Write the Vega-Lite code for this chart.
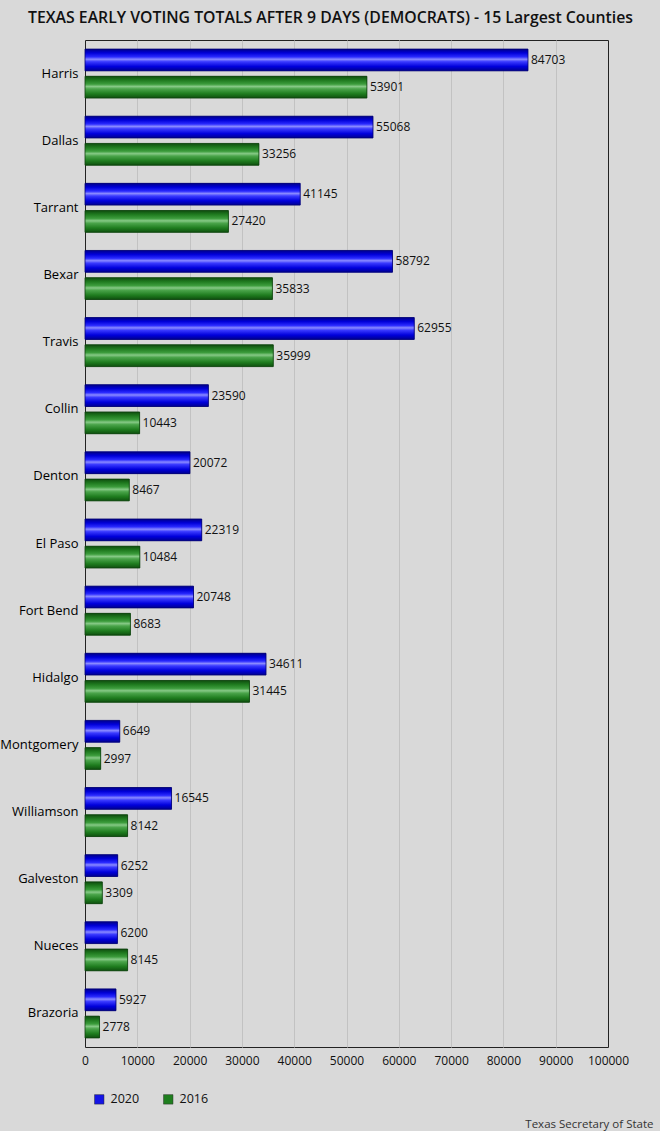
{
  "$schema": "https://vega.github.io/schema/vega-lite/v6.json",
  "autosize": "none",
  "width": 523,
  "height": 1007,
  "padding": {"left": 85, "top": 40, "right": 52, "bottom": 84},
  "background": "#d9d9d9",
  "title": {
    "text": "TEXAS EARLY VOTING TOTALS AFTER 9 DAYS (DEMOCRATS) - 15 Largest Counties",
    "font": "Open Sans",
    "fontSize": 15.8,
    "fontWeight": 600,
    "color": "#111111",
    "anchor": "middle",
    "dx": -16,
    "offset": 13
  },
  "data": {
    "values": [
      {"County": "Harris", "Year": "2020", "Votes": 84703},
      {"County": "Harris", "Year": "2016", "Votes": 53901},
      {"County": "Dallas", "Year": "2020", "Votes": 55068},
      {"County": "Dallas", "Year": "2016", "Votes": 33256},
      {"County": "Tarrant", "Year": "2020", "Votes": 41145},
      {"County": "Tarrant", "Year": "2016", "Votes": 27420},
      {"County": "Bexar", "Year": "2020", "Votes": 58792},
      {"County": "Bexar", "Year": "2016", "Votes": 35833},
      {"County": "Travis", "Year": "2020", "Votes": 62955},
      {"County": "Travis", "Year": "2016", "Votes": 35999},
      {"County": "Collin", "Year": "2020", "Votes": 23590},
      {"County": "Collin", "Year": "2016", "Votes": 10443},
      {"County": "Denton", "Year": "2020", "Votes": 20072},
      {"County": "Denton", "Year": "2016", "Votes": 8467},
      {"County": "El Paso", "Year": "2020", "Votes": 22319},
      {"County": "El Paso", "Year": "2016", "Votes": 10484},
      {"County": "Fort Bend", "Year": "2020", "Votes": 20748},
      {"County": "Fort Bend", "Year": "2016", "Votes": 8683},
      {"County": "Hidalgo", "Year": "2020", "Votes": 34611},
      {"County": "Hidalgo", "Year": "2016", "Votes": 31445},
      {"County": "Montgomery", "Year": "2020", "Votes": 6649},
      {"County": "Montgomery", "Year": "2016", "Votes": 2997},
      {"County": "Williamson", "Year": "2020", "Votes": 16545},
      {"County": "Williamson", "Year": "2016", "Votes": 8142},
      {"County": "Galveston", "Year": "2020", "Votes": 6252},
      {"County": "Galveston", "Year": "2016", "Votes": 3309},
      {"County": "Nueces", "Year": "2020", "Votes": 6200},
      {"County": "Nueces", "Year": "2016", "Votes": 8145},
      {"County": "Brazoria", "Year": "2020", "Votes": 5927},
      {"County": "Brazoria", "Year": "2016", "Votes": 2778}
    ]
  },
  "encoding": {
    "y": {
      "field": "County",
      "type": "nominal",
      "scale": {
        "domain": ["Harris", "Dallas", "Tarrant", "Bexar", "Travis", "Collin", "Denton", "El Paso", "Fort Bend", "Hidalgo", "Montgomery", "Williamson", "Galveston", "Nueces", "Brazoria"],
        "paddingInner": 0.27,
        "paddingOuter": 0.135
      },
      "axis": {
        "title": null,
        "ticks": false,
        "domain": false,
        "labelPadding": 7,
        "labelFont": "Open Sans",
        "labelFontSize": 13,
        "labelFontWeight": "normal",
        "labelColor": "#000000",
        "labelLimit": 120
      }
    },
    "yOffset": {
      "field": "Year",
      "type": "nominal",
      "scale": {"domain": ["2020", "2016"], "paddingInner": 0.2}
    },
    "x": {
      "field": "Votes",
      "type": "quantitative",
      "scale": {"domain": [0, 100000], "nice": false},
      "axis": {
        "title": "Texas Secretary of State",
        "titleFont": "Open Sans",
        "titleFontSize": 11.5,
        "titleFontWeight": "normal",
        "titleColor": "#333333",
        "titleAnchor": "end",
        "titleAlign": "right",
        "titleBaseline": "alphabetic",
        "titleX": 568,
        "titleY": 80,
        "values": [0, 10000, 20000, 30000, 40000, 50000, 60000, 70000, 80000, 90000, 100000],
        "format": "d",
        "ticks": false,
        "domain": false,
        "labelPadding": 8,
        "labelFont": "Open Sans",
        "labelFontSize": 12,
        "labelColor": "#111111",
        "labelFlush": false,
        "grid": true,
        "gridColor": {
          "condition": {"test": "datum.value === 0 || datum.value === 100000", "value": "transparent"},
          "value": "#c2c2c2"
        },
        "gridWidth": 1
      }
    }
  },
  "layer": [
    {
      "mark": {"type": "bar"},
      "encoding": {
        "color": {
          "field": "Year",
          "type": "nominal",
          "scale": {"domain": ["2020", "2016"], "range": ["#1414e6", "#1f7f1f"]},
          "legend": {
            "title": null,
            "orient": "none",
            "direction": "horizontal",
            "legendX": 8,
            "legendY": 1053,
            "symbolType": "square",
            "symbolSize": 90,
            "symbolStrokeColor": "#333333",
            "symbolStrokeWidth": 0.5,
            "labelFont": "Open Sans",
            "labelFontSize": 12.5,
            "labelColor": "#111111",
            "columnPadding": 22,
            "labelOffset": 5
          }
        }
      }
    },
    {
      "transform": [{"filter": "datum.Year === '2020'"}],
      "mark": {
        "type": "bar",
        "stroke": "#00006e",
        "strokeWidth": 0.8,
        "color": {
          "gradient": "linear",
          "x1": 0, "y1": 0, "x2": 0, "y2": 1,
          "stops": [
            {"offset": 0, "color": "#00008a"},
            {"offset": 0.18, "color": "#0000d8"},
            {"offset": 0.36, "color": "#2a2aff"},
            {"offset": 0.47, "color": "#8a8aff"},
            {"offset": 0.58, "color": "#3a3aff"},
            {"offset": 0.8, "color": "#0000dc"},
            {"offset": 1, "color": "#000090"}
          ]
        }
      }
    },
    {
      "transform": [{"filter": "datum.Year === '2016'"}],
      "mark": {
        "type": "bar",
        "stroke": "#0c3f0c",
        "strokeWidth": 0.8,
        "color": {
          "gradient": "linear",
          "x1": 0, "y1": 0, "x2": 0, "y2": 1,
          "stops": [
            {"offset": 0, "color": "#0f4d0f"},
            {"offset": 0.18, "color": "#1f7a1f"},
            {"offset": 0.36, "color": "#3c9c3c"},
            {"offset": 0.47, "color": "#86c986"},
            {"offset": 0.58, "color": "#4aa44a"},
            {"offset": 0.8, "color": "#1f7d1f"},
            {"offset": 1, "color": "#0f500f"}
          ]
        }
      }
    },
    {
      "mark": {
        "type": "text",
        "align": "left",
        "baseline": "middle",
        "dx": 3,
        "font": "Open Sans",
        "fontSize": 12,
        "color": "#111111"
      },
      "encoding": {
        "text": {"field": "Votes", "type": "quantitative", "format": "d"}
      }
    }
  ],
  "config": {
    "view": {"stroke": "#222222", "strokeWidth": 1}
  }
}
